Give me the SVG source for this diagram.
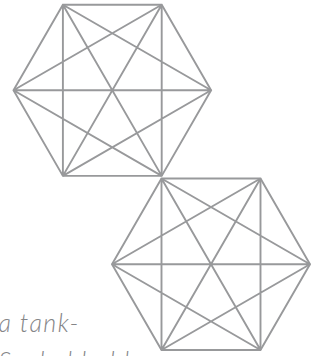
<svg xmlns="http://www.w3.org/2000/svg" width="320" height="356" viewBox="0 0 320 356">
<style>
.e{fill:none;stroke:#98999b;stroke-width:1.9;stroke-linejoin:miter;stroke-linecap:butt}
.t{font-family:Lato,"Open Sans","DejaVu Sans",sans-serif;font-style:italic;font-weight:300;font-size:25px;fill:#848587;letter-spacing:1.4px}
</style>
<g id="hexagon-1">
<polygon class="e" points="211.1,90.3 161.7,175.9 62.9,175.9 13.5,90.3 62.9,4.7 161.7,4.7"/>
<path class="e" d="M211.1,90.3L62.9,175.9M211.1,90.3L13.5,90.3M211.1,90.3L62.9,4.7M161.7,175.9L13.5,90.3M161.7,175.9L62.9,4.7M161.7,175.9L161.7,4.7M62.9,175.9L62.9,4.7M62.9,175.9L161.7,4.7M13.5,90.3L161.7,4.7"/>
</g>
<g id="hexagon-2">
<polygon class="e" points="310,264.2 260.5,350 161.5,350 112,264.2 161.5,178.5 260.5,178.5"/>
<path class="e" d="M310,264.2L161.5,350M310,264.2L112,264.2M310,264.2L161.5,178.5M260.5,350L112,264.2M260.5,350L161.5,178.5M260.5,350L260.5,178.5M161.5,350L161.5,178.5M161.5,350L260.5,178.5M112,264.2L260.5,178.5"/>
</g>
<g id="caption">
<text class="t" x="-1.5" y="332">a tank-</text>
<text class="t" x="-1.5" y="370">Sealed hold</text>
</g>
</svg>
